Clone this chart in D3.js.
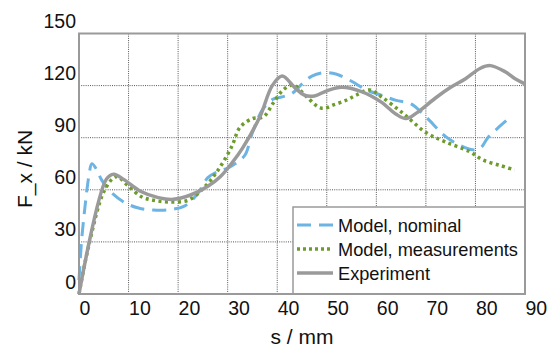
<!DOCTYPE html>
<html><head><meta charset="utf-8">
<script src="https://cdn.jsdelivr.net/npm/d3@7"></script>
<style>html,body{margin:0;padding:0;background:#fff;}svg{display:block;font-family:"Liberation Sans",Arial,sans-serif;}</style>
</head><body>
<svg id="c" width="554" height="351"></svg>
<script>
const xTicks = [0,10,20,30,40,50,60,70,80,90];
const yTicks = [0,30,60,90,120,150];
const seriesNames = ["Model, nominal","Model, measurements","Experiment"];

const nominalS = [0,0.5,1.2,2,2.6,3.6,4.5,6,9,12,15,18.5,21.5,24,26,28,30,32,33.5,35,37,39,41,43,45,47,49.5,52,55,58,61,64,67,70,74,77,79.5,81,82.5,84.5,86.5];
const nominalF = [8,30,50,68,75,71.5,66,60,53,49.5,48.3,48.6,51,58,67,70.5,72.5,76,80,93,106,112,113.5,115.5,121,125.5,127.5,126.5,122.5,117.5,114.5,111.5,109.5,102,90.6,85.5,83,84,90,95.5,100.5];

const measS = [0,1.9,5.2,7.5,10,12.6,15,18,22,25.4,28.1,30.8,32.5,35,37.2,39.2,41.2,43.2,45.9,48.9,51.5,54,56,58.7,61,65.4,70,74,78.8,81.5,85,87.9];
const measF = [0,27,60,67.5,62,56,54,53,54,61.8,71.5,84.8,96,101,102,110,117.5,120.3,113.6,107,109,111.7,114.6,117.5,113.6,104,93,87.5,82,77.2,74,71.4];

const expS = [0,5.5,7,9,12.5,16,19,22.5,26,28.5,31,33,36.5,39,41,43.5,45.5,47.5,50,53,57,61,64,66,68,72,75,78,81,83,86,88,90];
const expF = [0,66,69,66,59,55.5,54.5,57,62,67.5,76,84,102,120,125.5,119,114.5,114,117,119,116.5,110.5,103.5,101,104,113,119,124,130,131.5,128,124,121];

const svg = d3.select("#c");
const L = 79, T = 33.5, R = 525, B = 294;
const x = d3.scaleLinear().domain([0,90]).range([L,R]);
const y = d3.scaleLinear().domain([0,150]).range([B,T]);

// grid
const g = svg.append("g");
g.selectAll(".vg").data(xTicks.slice(1,-1)).enter().append("line")
  .attr("x1",d=>x(d)).attr("x2",d=>x(d)).attr("y1",T).attr("y2",B)
  .attr("stroke","#555").attr("stroke-width",1).attr("stroke-dasharray","1,1.2");
g.selectAll(".hg").data(yTicks.slice(1,-1)).enter().append("line")
  .attr("y1",d=>y(d)).attr("y2",d=>y(d)).attr("x1",L).attr("x2",R)
  .attr("stroke","#555").attr("stroke-width",1).attr("stroke-dasharray","1,1.2");

const line = d3.line().x(d=>x(d[0])).y(d=>y(d[1])).curve(d3.curveCatmullRom.alpha(0.5));
const zip = (a,b)=>a.map((v,i)=>[v,b[i]]);

const styles = [
  {s:nominalS,f:nominalF,color:"#6cb4e4",w:3,dash:"14,8"},
  {s:measS,f:measF,color:"#6e9c2c",w:3.5,dash:"3,3.5"},
  {s:expS,f:expF,color:"#9a9a9a",w:3.5,dash:null}
];
styles.forEach(st=>{
  svg.append("path").attr("d",line(zip(st.s,st.f)))
    .attr("fill","none").attr("stroke",st.color).attr("stroke-width",st.w)
    .attr("stroke-dasharray",st.dash).attr("stroke-linejoin","round");
});

// legend
const lg = svg.append("g");
lg.append("rect").attr("x",293).attr("y",207).attr("width",R-293).attr("height",B-207)
  .attr("fill","#fff").attr("stroke","#9a9a9a").attr("stroke-width",1.5);
seriesNames.forEach((n,i)=>{
  const yy = 225 + i*24;
  lg.append("line").attr("x1",297).attr("x2",333).attr("y1",yy).attr("y2",yy)
    .attr("stroke",styles[i].color).attr("stroke-width",styles[i].w)
    .attr("stroke-dasharray",i===0?"14,8":(i===1?"3,3":null));
  lg.append("text").attr("x",338).attr("y",yy+6.5).attr("font-size",18.2).attr("fill","#111").text(n);
});

// frame
svg.append("rect").attr("x",L).attr("y",T).attr("width",R-L).attr("height",B-T)
  .attr("fill","none").attr("stroke","#9a9a9a").attr("stroke-width",2);

// tick labels
svg.selectAll(".xt").data(xTicks).enter().append("text")
  .attr("x",d=>x(d)+0.5).attr("y",315).attr("font-size",19.5).attr("fill","#111")
  .attr("text-anchor","start").text(d=>d);
svg.selectAll(".yt").data(yTicks).enter().append("text")
  .attr("x",76).attr("y",d=>y(d)-5.5).attr("font-size",19.5).attr("fill","#111")
  .attr("text-anchor","end").text(d=>d);

// axis titles
svg.append("text").attr("x",(L+R)/2).attr("y",344).attr("text-anchor","middle")
  .attr("font-size",21).attr("fill","#111").text("s / mm");
svg.append("text").attr("transform","translate(32,169) rotate(-90)").attr("text-anchor","middle")
  .attr("font-size",21).attr("fill","#111").text("F_x / kN");
</script>
</body></html>
